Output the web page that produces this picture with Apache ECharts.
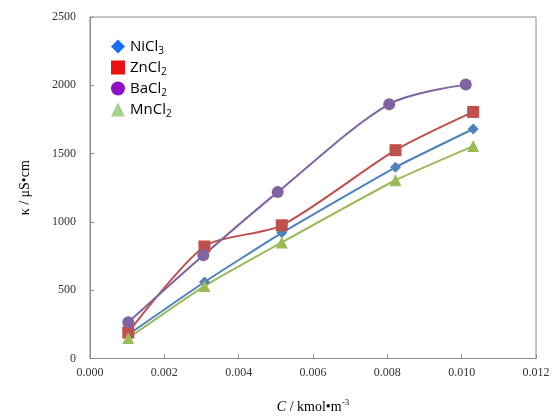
<!DOCTYPE html>
<html>
<head>
<meta charset="utf-8">
<script src="https://cdn.jsdelivr.net/npm/echarts@6/dist/echarts.min.js"></script>
<style>
  html, body { margin: 0; padding: 0; background: #fff; }
  #chart { width: 558px; height: 419px; }
</style>
</head>
<body>
<div id="chart"></div>
<script>
// concentration (kmol/m3) and conductivity (uS/cm)
const niX = [0.00103, 0.00308, 0.00516, 0.00822, 0.01031];
const niY = [175, 560, 920, 1400, 1680];
const znX = [0.00103, 0.00308, 0.00516, 0.00822, 0.01031];
const znY = [190, 820, 975, 1525, 1805];
const baX = [0.00103, 0.00305, 0.00505, 0.00805, 0.01011];
const baY = [265, 755, 1218, 1862, 2005];
const mnX = [0.00103, 0.00308, 0.00516, 0.00822, 0.01031];
const mnY = [150, 530, 850, 1305, 1555];
const xTicks = ['0.000', '0.002', '0.004', '0.006', '0.008', '0.010', '0.012'];

const pairs = (xs, ys) => xs.map((x, i) => [x, ys[i]]);

const labelRich = {
  n: { fontFamily: 'Open Sans', fontSize: 15, color: '#000' },
  s: { fontFamily: 'Open Sans', fontSize: 10, color: '#000', padding: [10, 0, 0, 0] }
};

const chart = echarts.init(document.getElementById('chart'));
const serif = 'Liberation Serif';

function line(name, data, color, symbol, size, smooth) {
  return {
    name: name,
    type: 'line',
    data: data,
    smooth: smooth,
    symbol: symbol,
    symbolSize: size,
    lineStyle: { color: color, width: 2 },
    itemStyle: { color: color, borderWidth: 0 },
    emphasis: { disabled: true }
  };
}

chart.setOption({
  animation: false,
  grid: { left: 90, right: 22, top: 17, bottom: 60, show: true, borderColor: '#8c8c8c', borderWidth: 1 },
  legend: {
    orient: 'vertical',
    left: 106,
    top: 34,
    itemGap: 3.5,
    itemWidth: 14,
    itemHeight: 14,
    data: [
      { name: 'NiCl3', icon: 'diamond', itemStyle: { color: '#1a6cf2' } },
      { name: 'ZnCl2', icon: 'rect', itemStyle: { color: '#ee1111' } },
      { name: 'BaCl2', icon: 'circle', itemStyle: { color: '#9010c8' } },
      { name: 'MnCl2', icon: 'triangle', itemStyle: { color: '#a8d08d' } }
    ],
    formatter: function (n) {
      return '{n|' + n.slice(0, -1) + '}{s|' + n.slice(-1) + '}';
    },
    textStyle: { rich: labelRich }
  },
  xAxis: {
    type: 'value',
    min: 0,
    max: 0.012,
    interval: 0.002,
    name: '{i|C} / kmol•m{s|-3}',
    nameLocation: 'middle',
    nameGap: 40,
    nameTextStyle: {
      fontFamily: serif, fontSize: 14, color: '#000',
      rich: {
        i: { fontFamily: serif, fontStyle: 'italic', fontSize: 14, color: '#000' },
        s: { fontFamily: serif, fontSize: 9, color: '#000', padding: [0, 0, 8, 0] }
      }
    },
    axisLine: { lineStyle: { color: '#8c8c8c' } },
    axisTick: { inside: true, length: 4, lineStyle: { color: '#8c8c8c' } },
    splitLine: { show: false },
    axisLabel: {
      fontFamily: serif, fontSize: 12, color: '#333', margin: 8,
      formatter: function (v) { return xTicks[Math.round(v / 0.002)]; }
    }
  },
  yAxis: {
    type: 'value',
    min: 0,
    max: 2500,
    interval: 500,
    name: 'κ / μS•cm',
    nameLocation: 'middle',
    nameGap: 58,
    nameTextStyle: { fontFamily: serif, fontSize: 14, color: '#000' },
    axisLine: { show: true, lineStyle: { color: '#8c8c8c' } },
    axisTick: { show: true, inside: true, length: 4, lineStyle: { color: '#8c8c8c' } },
    splitLine: { show: false },
    axisLabel: {
      fontFamily: serif, fontSize: 12, color: '#333', margin: 14,
      formatter: function (v) { return String(v); }
    }
  },
  series: [
    line('NiCl3', pairs(niX, niY), '#4f81bd', 'diamond', 11, 0.15),
    line('ZnCl2', pairs(znX, znY), '#c0504d', 'rect', 12, 0.25),
    line('BaCl2', pairs(baX, baY), '#8064a2', 'circle', 12, 0.3),
    line('MnCl2', pairs(mnX, mnY), '#9bbb59', 'triangle', 12, 0.15)
  ]
});
</script>
</body>
</html>
